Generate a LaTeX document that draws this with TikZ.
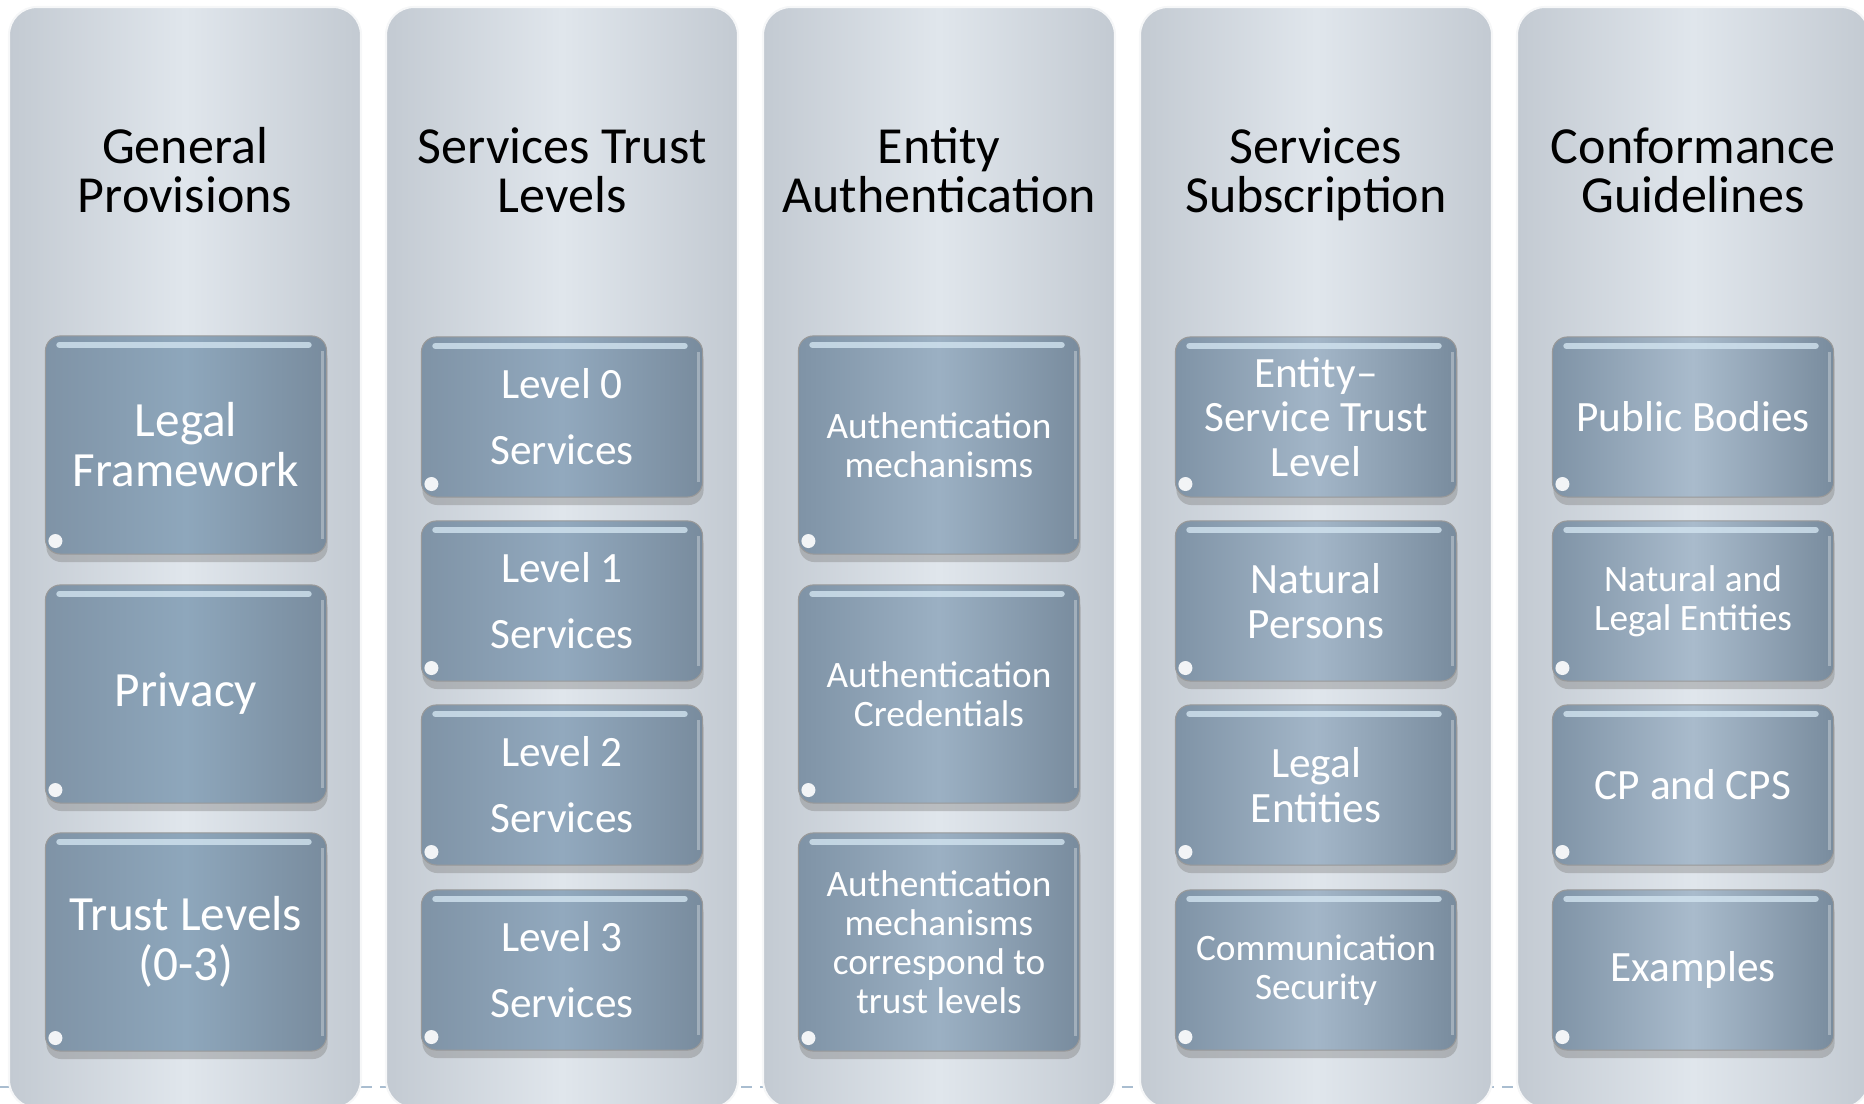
\documentclass[tikz,border=0pt]{standalone}
\usepackage{fontspec}
\setmainfont{Carlito}
\usetikzlibrary{shadows}
\definecolor{pillaredge}{HTML}{C3CAD2}
\definecolor{pillarmid}{HTML}{E0E6EC}
\definecolor{tileedge}{HTML}{7F93A6}
\definecolor{tileglow}{HTML}{D2E4F0}
\definecolor{dashblue}{HTML}{A9BDD0}
\definecolor{tileone}{HTML}{8EA7BC}
\definecolor{tiletwo}{HTML}{92A9BE}
\definecolor{tilethree}{HTML}{9BB0C3}
\definecolor{tilefour}{HTML}{A3B6C8}
\definecolor{tilefive}{HTML}{A9BBCC}

\tikzset{
  pillar/.style={rounded corners=2.8mm, left color=pillaredge, right color=pillaredge,
    middle color=pillarmid, draw=white!85!pillaredge, line width=0.6pt},
  heading/.style={align=center, anchor=base, font=\fontsize{14.8}{14.2}\selectfont},
  tile/.style={rounded corners=1.5mm, minimum width=2.81cm, inner sep=0pt,
    left color=tileedge, right color=tileedge!95!black, middle color=#1,
    draw=black!40, line width=0.3pt, text=white, align=center,
    drop shadow={shadow xshift=0.1mm, shadow yshift=-0.8mm, opacity=0.4},
    path picture={
      \draw[tileglow, opacity=0.8, line width=1.8pt, line cap=round]
        ([xshift=1.4mm,yshift=-0.9mm]path picture bounding box.north west) --
        ([xshift=-1.8mm,yshift=-0.9mm]path picture bounding box.north east);
      \draw[white, opacity=0.3, line width=0.8pt]
        ([xshift=-0.4mm,yshift=-1.5mm]path picture bounding box.north east) --
        ([xshift=-0.4mm,yshift=1.5mm]path picture bounding box.south east);
      \fill[white, opacity=0.9]
        ([xshift=1mm,yshift=1.3mm]path picture bounding box.south west) circle (0.7mm);
    }},
  tallbox/.style={minimum height=2.18cm},
  shortbox/.style={minimum height=1.60cm},
  bigtext/.style={font=\fontsize{14}{14.2}\selectfont},
  midtext/.style={font=\fontsize{12.3}{12.7}\selectfont},
  smalltext/.style={font=\fontsize{10.6}{11.1}\selectfont},
}

\begin{document}
\begin{tikzpicture}[x=0.01cm, y=-0.01cm]
	\useasboundingbox (0,0) rectangle (1864,1104);
	\draw[dashblue, dash pattern=on 1.1mm off 0.8mm, line width=0.8pt] (0,1087) -- (1864,1087);
	% pillars
	\draw[pillar] (9,7) rectangle (361,1108);
	\draw[pillar] (386,7) rectangle (738,1108);
	\draw[pillar] (763,7) rectangle (1115,1108);
	\draw[pillar] (1140,7) rectangle (1492,1108);
	\draw[pillar] (1517,7) rectangle (1869,1108);
	% headings
	\node[heading] (gp) at (185,213) {General\\Provisions};
	\node[heading] (stl) at (562,213) {Services Trust\\Levels};
	\node[heading] (ea) at (939,213) {Entity\\Authentication};
	\node[heading] (ss) at (1316,213) {Services\\Subscription};
	\node[heading] (cg) at (1693,213) {Conformance\\Guidelines};
	% general provisions
	\node[tile=tileone, tallbox, bigtext] (gp1) at (186,445) {Legal\\Framework};
	\node[tile=tileone, tallbox, bigtext] (gp2) at (186,694) {Privacy};
	\node[tile=tileone, tallbox, bigtext] (gp3) at (186,942) {Trust Levels\\(0-3)};
	% services trust levels
	\node[tile=tiletwo, shortbox, midtext] (stl0) at (562,417) {Level 0\\[6pt]Services};
	\node[tile=tiletwo, shortbox, midtext] (stl1) at (562,601) {Level 1\\[6pt]Services};
	\node[tile=tiletwo, shortbox, midtext] (stl2) at (562,785) {Level 2\\[6pt]Services};
	\node[tile=tiletwo, shortbox, midtext] (stl3) at (562,970) {Level 3\\[6pt]Services};
	% entity authentication
	\node[tile=tilethree, tallbox, smalltext] (ea1) at (939,445) {Authentication\\mechanisms};
	\node[tile=tilethree, tallbox, smalltext] (ea2) at (939,694) {Authentication\\Credentials};
	\node[tile=tilethree, tallbox, smalltext] (ea3) at (939,942) {Authentication\\mechanisms\\correspond to\\trust levels};
	% services subscription
	\node[tile=tilefour, shortbox, midtext] (ss1) at (1316,417) {Entity--\\Service Trust\\Level};
	\node[tile=tilefour, shortbox, midtext] (ss2) at (1316,601) {Natural\\Persons};
	\node[tile=tilefour, shortbox, midtext] (ss3) at (1316,785) {Legal\\Entities};
	\node[tile=tilefour, shortbox, smalltext] (ss4) at (1316,970) {Communication\\Security};
	% conformance guidelines
	\node[tile=tilefive, shortbox, midtext] (cg1) at (1693,417) {Public Bodies};
	\node[tile=tilefive, shortbox, smalltext] (cg2) at (1693,601) {Natural and\\Legal Entities};
	\node[tile=tilefive, shortbox, midtext] (cg3) at (1693,785) {CP and CPS};
	\node[tile=tilefive, shortbox, midtext] (cg4) at (1693,970) {Examples};
\end{tikzpicture}
\end{document}
